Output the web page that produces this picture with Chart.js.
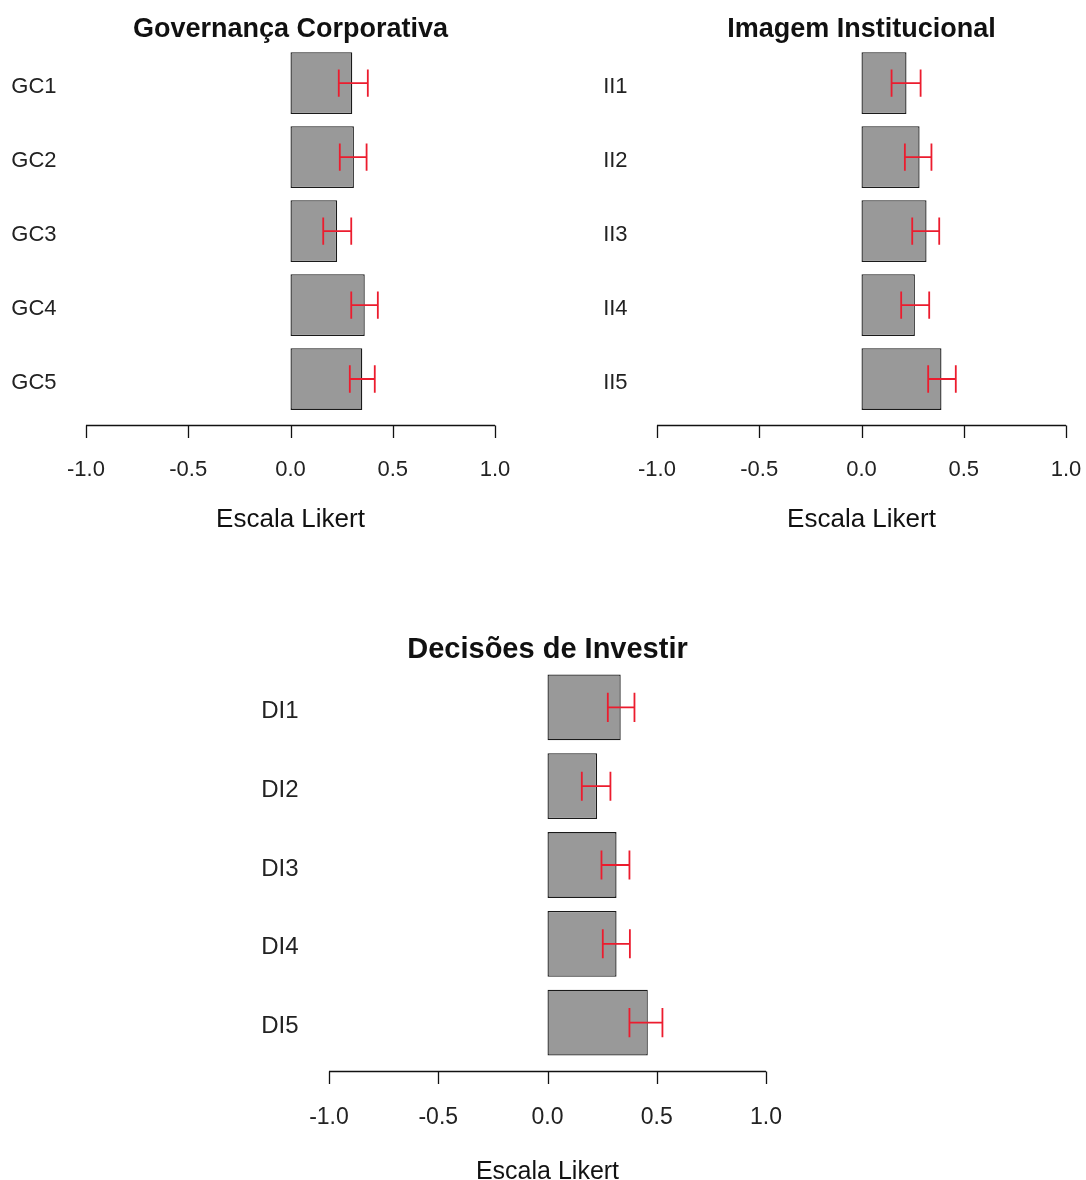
<!DOCTYPE html>
<html>
<head>
<meta charset="utf-8">
<script src="https://cdn.jsdelivr.net/npm/chart.js@4.4.1/dist/chart.umd.min.js"></script>
<style>
  html, body { margin: 0; padding: 0; background: #ffffff; overflow: hidden; }
  body { width: 1086px; height: 1180px; position: relative; }
  .box { position: absolute; }
</style>
</head>
<body>
<div class="box" style="left:0px;top:0px;width:543px;height:535px;"><canvas id="c1"></canvas></div>
<div class="box" style="left:543px;top:0px;width:543px;height:535px;"><canvas id="c2"></canvas></div>
<div class="box" style="left:0px;top:557px;width:1086px;height:630px;"><canvas id="c3"></canvas></div>
<script>
// ---- data ----
const gcTitle = 'Governança Corporativa';
const gcLabels = ['GC1', 'GC2', 'GC3', 'GC4', 'GC5'];
const gcMeans  = [0.302, 0.310, 0.228, 0.363, 0.351];
const gcLow    = [0.236, 0.241, 0.160, 0.297, 0.290];
const gcHigh   = [0.378, 0.372, 0.297, 0.427, 0.412];

const iiTitle = 'Imagem Institucional';
const iiLabels = ['II1', 'II2', 'II3', 'II4', 'II5'];
const iiMeans  = [0.220, 0.284, 0.318, 0.261, 0.391];
const iiLow    = [0.147, 0.212, 0.248, 0.194, 0.326];
const iiHigh   = [0.289, 0.342, 0.380, 0.331, 0.461];

const diTitle = 'Decisões de Investir';
const diLabels = ['DI1', 'DI2', 'DI3', 'DI4', 'DI5'];
const diMeans  = [0.335, 0.227, 0.316, 0.316, 0.459];
const diLow    = [0.276, 0.157, 0.247, 0.253, 0.375];
const diHigh   = [0.398, 0.288, 0.375, 0.377, 0.526];

const xTickValues = [-1.0, -0.5, 0.0, 0.5, 1.0];
const xAxisTitle = 'Escala Likert';

// ---- styling ----
const FONT = "'Liberation Sans', Arial, Helvetica, sans-serif";
Chart.defaults.font.family = FONT;
Chart.defaults.color = '#222222';

const rStylePlugin = {
  id: 'rStyle',
  afterDatasetsDraw(chart, args, opts) {
    const ctx = chart.ctx;
    const xs = chart.scales.x, ys = chart.scales.y;
    const n = chart.data.labels.length;
    const band = chart.chartArea.height / n;
    // error bars
    ctx.save();
    ctx.strokeStyle = opts.errColor;
    ctx.lineWidth = 1.8;
    const cap = band * 0.84 * 0.22;
    opts.low.forEach((lo, i) => {
      const hi = opts.high[i];
      const y = ys.getPixelForValue(i);
      const x1 = xs.getPixelForValue(lo), x2 = xs.getPixelForValue(hi);
      ctx.beginPath();
      ctx.moveTo(x1, y); ctx.lineTo(x2, y);
      ctx.moveTo(x1, y - cap); ctx.lineTo(x1, y + cap);
      ctx.moveTo(x2, y - cap); ctx.lineTo(x2, y + cap);
      ctx.stroke();
    });
    ctx.restore();
    // R-style x axis line spanning the tick range
    const axisY = Math.round(ys.getPixelForValue(n - 1) + 0.62 * band) + 0.5;
    const t = xs.ticks.map(tk => tk.value);
    ctx.save();
    ctx.strokeStyle = '#111111';
    ctx.lineWidth = 1.3;
    ctx.beginPath();
    ctx.moveTo(xs.getPixelForValue(t[0]), axisY);
    ctx.lineTo(xs.getPixelForValue(t[t.length - 1]), axisY);
    t.forEach(v => {
      const px = Math.round(xs.getPixelForValue(v)) + 0.5;
      ctx.moveTo(px, axisY);
      ctx.lineTo(px, axisY + 12.5);
    });
    ctx.stroke();
    ctx.restore();
  }
};

function makeChart(id, cfg) {
  return new Chart(document.getElementById(id), {
    type: 'bar',
    data: {
      labels: cfg.labels,
      datasets: [{
        data: cfg.means,
        backgroundColor: '#999999',
        borderColor: '#1a1a1a',
        borderWidth: 1.3,
        borderSkipped: false,
        barPercentage: 0.835,
        categoryPercentage: 1.0
      }]
    },
    options: {
      indexAxis: 'y',
      responsive: true,
      maintainAspectRatio: false,
      animation: false,
      events: [],
      layout: { padding: { left: 0, right: cfg.padRight, top: 0, bottom: 0 } },
      plugins: {
        legend: { display: false },
        tooltip: { enabled: false },
        title: {
          display: true,
          text: cfg.title,
          fullSize: false,
          color: '#111111',
          font: { family: FONT, size: cfg.titleSize, weight: 'bold', lineHeight: 1.2 },
          padding: { top: cfg.titleTop, bottom: cfg.titleBottom }
        },
        rStyle: { low: cfg.low, high: cfg.high, errColor: '#ec1c2e' }
      },
      scales: {
        x: {
          type: 'linear',
          min: -1.08,
          max: 1.08,
          afterBuildTicks(scale) { scale.ticks = xTickValues.map(v => ({ value: v })); },
          afterFit(scale) { scale.height = cfg.xHeight; scale.paddingLeft = 0; scale.paddingRight = 0; },
          grid: { display: false, drawTicks: false },
          border: { display: false },
          ticks: {
            padding: cfg.tickPad,
            color: '#222222',
            font: { family: FONT, size: cfg.tickSize, lineHeight: 1.2 },
            maxRotation: 0,
            autoSkip: false,
            callback: v => Number(v).toFixed(1)
          },
          title: {
            display: true,
            text: xAxisTitle,
            color: '#111111',
            font: { family: FONT, size: cfg.axisTitleSize, lineHeight: 1.2 },
            padding: { top: 0, bottom: 0 }
          }
        },
        y: {
          type: 'category',
          afterFit(scale) { scale.width = cfg.yWidth; },
          grid: { display: false, drawTicks: false },
          border: { display: false },
          ticks: {
            padding: 13,
            labelOffset: 4,
            color: '#222222',
            font: { family: FONT, size: cfg.labelSize }
          }
        }
      }
    },
    plugins: [rStylePlugin]
  });
}

makeChart('c1', {
  labels: gcLabels, means: gcMeans, low: gcLow, high: gcHigh, title: gcTitle,
  yWidth: 69.6, padRight: 31.6, xHeight: 119, tickPad: 40.8, titleTop: 13.8, titleBottom: 0,
  titleSize: 27, tickSize: 22, labelSize: 22, axisTitleSize: 26
});
makeChart('c2', {
  labels: iiLabels, means: iiMeans, low: iiLow, high: iiHigh, title: iiTitle,
  yWidth: 97.6, padRight: 3.6, xHeight: 119, tickPad: 40.8, titleTop: 13.8, titleBottom: 0,
  titleSize: 27, tickSize: 22, labelSize: 22, axisTitleSize: 26
});
makeChart('c3', {
  labels: diLabels, means: diMeans, low: diLow, high: diHigh, title: diTitle,
  yWidth: 311.5, padRight: 302.5, xHeight: 125, tickPad: 41.8, titleTop: 75.6, titleBottom: 0.6,
  titleSize: 29, tickSize: 23, labelSize: 24, axisTitleSize: 25
});
</script>
</body>
</html>
